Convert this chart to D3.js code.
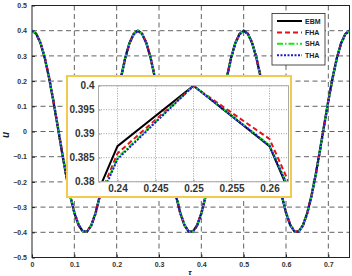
<!DOCTYPE html>
<html>
<head>
<meta charset="utf-8">
<script src="https://cdn.jsdelivr.net/npm/d3@7"></script>
<style>
  html, body { margin: 0; padding: 0; background: #fff; }
  svg { display: block; font-family: "Liberation Sans", Arial, sans-serif; }
</style>
</head>
<body>
<svg id="chart" width="352" height="276"></svg>
<script>
// ---------------------------------------------------------------------------
// DATA
// ---------------------------------------------------------------------------
var tau = [0.00,0.01,0.02,0.03,0.04,0.05,0.06,0.07,0.08,0.09,0.10,0.11,0.12,0.13,0.14,0.15,0.16,0.17,0.18,0.19,
  0.20,0.21,0.22,0.23,0.24,0.25,0.26,0.27,0.28,0.29,0.30,0.31,0.32,0.33,0.34,0.35,0.36,0.37,0.38,0.39,
  0.40,0.41,0.42,0.43,0.44,0.45,0.46,0.47,0.48,0.49,0.50,0.51,0.52,0.53,0.54,0.55,0.56,0.57,0.58,0.59,
  0.60,0.61,0.62,0.63,0.64,0.65,0.66,0.67,0.68,0.69,0.70,0.71,0.72,0.73,0.74,0.75];

var ebm = [0.4,0.3874,0.3505,0.2916,0.2143,0.1236,0.0251,-0.0750,-0.1703,-0.2550,-0.3236,-0.3719,-0.3968,-0.3968,-0.3719,-0.3236,-0.2550,-0.1703,-0.0750,0.0251,0.1236,0.2143,0.2916,0.3505,0.3874,
  0.4,0.3874,0.3505,0.2916,0.2143,0.1236,0.0251,-0.0750,-0.1703,-0.2550,-0.3236,-0.3719,-0.3968,-0.3968,-0.3719,-0.3236,-0.2550,-0.1703,-0.0750,0.0251,0.1236,0.2143,0.2916,0.3505,0.3874,
  0.4,0.3874,0.3505,0.2916,0.2143,0.1236,0.0251,-0.0750,-0.1703,-0.2550,-0.3236,-0.3719,-0.3968,-0.3968,-0.3719,-0.3236,-0.2550,-0.1703,-0.0750,0.0251,0.1236,0.2143,0.2916,0.3505,0.3874,0.4];

var fha = [0.4,0.3889,0.3534,0.2957,0.2194,0.1293,0.0311,-0.0691,-0.1649,-0.2504,-0.3201,-0.3697,-0.3960,-0.3976,-0.3741,-0.3271,-0.2596,-0.1757,-0.0809,0.0191,0.1179,0.2092,0.2875,0.3476,0.3859,
  0.3999,0.3889,0.3534,0.2957,0.2194,0.1293,0.0311,-0.0691,-0.1649,-0.2504,-0.3201,-0.3697,-0.3960,-0.3976,-0.3741,-0.3271,-0.2596,-0.1757,-0.0809,0.0191,0.1179,0.2092,0.2875,0.3476,0.3859,
  0.3999,0.3889,0.3534,0.2957,0.2194,0.1293,0.0311,-0.0691,-0.1649,-0.2504,-0.3201,-0.3697,-0.3960,-0.3976,-0.3741,-0.3271,-0.2596,-0.1757,-0.0809,0.0191,0.1179,0.2092,0.2875,0.3476,0.3859,0.3999];

var sha = [0.4,0.3876,0.3524,0.2943,0.2177,0.1274,0.0291,-0.0711,-0.1667,-0.2519,-0.3212,-0.3704,-0.3963,-0.3973,-0.3734,-0.3260,-0.2581,-0.1739,-0.0789,0.0211,0.1198,0.2109,0.2889,0.3486,0.3850,
  0.4,0.3876,0.3524,0.2943,0.2177,0.1274,0.0291,-0.0711,-0.1667,-0.2519,-0.3212,-0.3704,-0.3963,-0.3973,-0.3734,-0.3260,-0.2581,-0.1739,-0.0789,0.0211,0.1198,0.2109,0.2889,0.3486,0.3850,
  0.4,0.3876,0.3524,0.2943,0.2177,0.1274,0.0291,-0.0711,-0.1667,-0.2519,-0.3212,-0.3704,-0.3963,-0.3973,-0.3734,-0.3260,-0.2581,-0.1739,-0.0789,0.0211,0.1198,0.2109,0.2889,0.3486,0.3850,0.4];

var tha = [0.4,0.3875,0.3522,0.2940,0.2175,0.1271,0.0289,-0.0714,-0.1670,-0.2522,-0.3214,-0.3706,-0.3964,-0.3974,-0.3736,-0.3263,-0.2584,-0.1742,-0.0792,0.0208,0.1195,0.2106,0.2886,0.3484,0.3847,
  0.4,0.3875,0.3522,0.2940,0.2175,0.1271,0.0289,-0.0714,-0.1670,-0.2522,-0.3214,-0.3706,-0.3964,-0.3974,-0.3736,-0.3263,-0.2584,-0.1742,-0.0792,0.0208,0.1195,0.2106,0.2886,0.3484,0.3847,
  0.4,0.3875,0.3522,0.2940,0.2175,0.1271,0.0289,-0.0714,-0.1670,-0.2522,-0.3214,-0.3706,-0.3964,-0.3974,-0.3736,-0.3263,-0.2584,-0.1742,-0.0792,0.0208,0.1195,0.2106,0.2886,0.3484,0.3847,0.4];

var seriesNames = ["EBM", "FHA", "SHA", "THA"];
var xTicks = [0, 0.1, 0.2, 0.3, 0.4, 0.5, 0.6, 0.7];
var yTicks = [-0.5, -0.4, -0.3, -0.2, -0.1, 0, 0.1, 0.2, 0.3, 0.4, 0.5];
var insetXTicks = [0.24, 0.245, 0.25, 0.255, 0.26];
var insetYTicks = [0.38, 0.385, 0.39, 0.395, 0.4];

// ---------------------------------------------------------------------------
// STYLES
// ---------------------------------------------------------------------------
var styles = {
    EBM: { color: "#000000", dash: null },
    FHA: { color: "#e8101a", dash: "5,3" },
    SHA: { color: "#19e619", dash: "6,2,1.5,2" },
    THA: { color: "#1a1acc", dash: "2,1.5" }
};
var seriesData = { EBM: ebm, FHA: fha, SHA: sha, THA: tha };

var svg = d3.select("#chart");

// main plot area
var M = { left: 32, right: 349.5, top: 5.5, bottom: 257.5 };
var x = d3.scaleLinear().domain([0, 0.75]).range([M.left, M.right]);
var y = d3.scaleLinear().domain([-0.5, 0.5]).range([M.bottom, M.top]);

svg.append("clipPath").attr("id", "clipMain")
    .append("rect").attr("x", M.left).attr("y", M.top)
    .attr("width", M.right - M.left).attr("height", M.bottom - M.top);

// grid
var grid = svg.append("g").attr("class", "grid");
grid.selectAll(".vg").data(xTicks.slice(1)).enter().append("line")
    .attr("x1", d => x(d)).attr("x2", d => x(d))
    .attr("y1", M.top).attr("y2", M.bottom)
    .attr("stroke", "#3a3a3a").attr("stroke-width", 0.8).attr("stroke-dasharray", "5,3.5");
grid.selectAll(".hg").data(yTicks.slice(1, -1)).enter().append("line")
    .attr("x1", M.left).attr("x2", M.right)
    .attr("y1", d => y(d)).attr("y2", d => y(d))
    .attr("stroke", "#3a3a3a").attr("stroke-width", 0.8).attr("stroke-dasharray", "5,3.5");

// axes (MATLAB style: ticks inside, labels outside)
var xAxis = svg.append("g").attr("transform", "translate(0," + M.bottom + ")")
    .call(d3.axisBottom(x).tickValues(xTicks).tickSize(-3).tickPadding(5).tickFormat(d3.format("")));
var yAxis = svg.append("g").attr("transform", "translate(" + M.left + ",0)")
    .call(d3.axisLeft(y).tickValues(yTicks).tickSize(-3).tickPadding(5).tickFormat(d3.format("")));
[xAxis, yAxis].forEach(function(a) {
    a.select(".domain").remove();
    a.selectAll("line").attr("stroke", "#222");
    a.selectAll("text").attr("font-size", "7px").attr("font-weight", "bold").attr("fill", "#333");
});

// frame
svg.append("rect").attr("x", M.left).attr("y", M.top)
    .attr("width", M.right - M.left).attr("height", M.bottom - M.top)
    .attr("fill", "none").attr("stroke", "#222").attr("stroke-width", 1);

// curves
function drawSeries(g, xs, ys, width) {
    var line = d3.line().x(function(d, i) { return xs(tau[i]); }).y(function(d) { return ys(d); });
    seriesNames.forEach(function(name) {
        g.append("path")
            .datum(seriesData[name])
            .attr("d", line)
            .attr("fill", "none")
            .attr("stroke", styles[name].color)
            .attr("stroke-width", width)
            .attr("stroke-dasharray", styles[name].dash);
    });
}
var curves = svg.append("g").attr("clip-path", "url(#clipMain)");
drawSeries(curves, x, y, 2.2);

// axis titles
svg.append("text").attr("transform", "translate(9,135) rotate(-90)")
    .attr("text-anchor", "middle").attr("font-size", "10px").attr("font-weight", "bold")
    .attr("font-style", "italic").attr("fill", "#222").text("u");
svg.append("text").attr("x", 190).attr("y", 274.5)
    .attr("text-anchor", "middle").attr("font-size", "8px").attr("font-weight", "bold")
    .attr("font-style", "italic").attr("fill", "#222").text("τ");

// legend
var lg = svg.append("g");
lg.append("rect").attr("x", 272).attr("y", 13.5).attr("width", 53).attr("height", 51.5)
    .attr("fill", "#fff").attr("stroke", "#222").attr("stroke-width", 0.8);
seriesNames.forEach(function(name, i) {
    var ly = 21 + i * 11.4;
    lg.append("line").attr("x1", 277).attr("x2", 302).attr("y1", ly).attr("y2", ly)
        .attr("stroke", styles[name].color).attr("stroke-width", 2)
        .attr("stroke-dasharray", styles[name].dash);
    lg.append("text").attr("x", 305).attr("y", ly + 2.5)
        .attr("font-size", "7px").attr("font-weight", "bold").attr("fill", "#222").text(name);
});

// ---------------------------------------------------------------------------
// INSET (zoom on the peak at tau = 0.25)
// ---------------------------------------------------------------------------
svg.append("rect").attr("x", 67).attr("y", 76).attr("width", 224).attr("height", 121)
    .attr("fill", "#fff").attr("stroke", "#f3c94e").attr("stroke-width", 2);

var I = { left: 98.5, right: 288.5, top: 85.7, bottom: 181.7 };
var xi = d3.scaleLinear().domain([0.2375, 0.2625]).range([I.left, I.right]);
var yi = d3.scaleLinear().domain([0.38, 0.4]).range([I.bottom, I.top]);

svg.append("clipPath").attr("id", "clipInset")
    .append("rect").attr("x", I.left).attr("y", I.top)
    .attr("width", I.right - I.left).attr("height", I.bottom - I.top);

var ig = svg.append("g");
ig.selectAll(".ivg").data(insetXTicks).enter().append("line")
    .attr("x1", d => xi(d)).attr("x2", d => xi(d)).attr("y1", I.top).attr("y2", I.bottom)
    .attr("stroke", "#888").attr("stroke-width", 0.8).attr("stroke-dasharray", "1,1.5");
ig.selectAll(".ihg").data(insetYTicks).enter().append("line")
    .attr("x1", I.left).attr("x2", I.right).attr("y1", d => yi(d)).attr("y2", d => yi(d))
    .attr("stroke", "#888").attr("stroke-width", 0.8).attr("stroke-dasharray", "1,1.5");

var ixAxis = svg.append("g").attr("transform", "translate(0," + I.bottom + ")")
    .call(d3.axisBottom(xi).tickValues(insetXTicks).tickSize(-2).tickPadding(3).tickFormat(d3.format("")));
var iyAxis = svg.append("g").attr("transform", "translate(" + I.left + ",0)")
    .call(d3.axisLeft(yi).tickValues(insetYTicks).tickSize(-2).tickPadding(4).tickFormat(d3.format("")));
[ixAxis, iyAxis].forEach(function(a) {
    a.select(".domain").remove();
    a.selectAll("line").attr("stroke", "#999");
    a.selectAll("text").attr("font-size", "10px").attr("font-weight", "bold").attr("fill", "#333");
});

var insetCurves = svg.append("g").attr("clip-path", "url(#clipInset)");
drawSeries(insetCurves, xi, yi, 2);

svg.append("rect").attr("x", I.left).attr("y", I.top)
    .attr("width", I.right - I.left).attr("height", I.bottom - I.top)
    .attr("fill", "none").attr("stroke", "#aaa").attr("stroke-width", 1);
</script>
</body>
</html>
